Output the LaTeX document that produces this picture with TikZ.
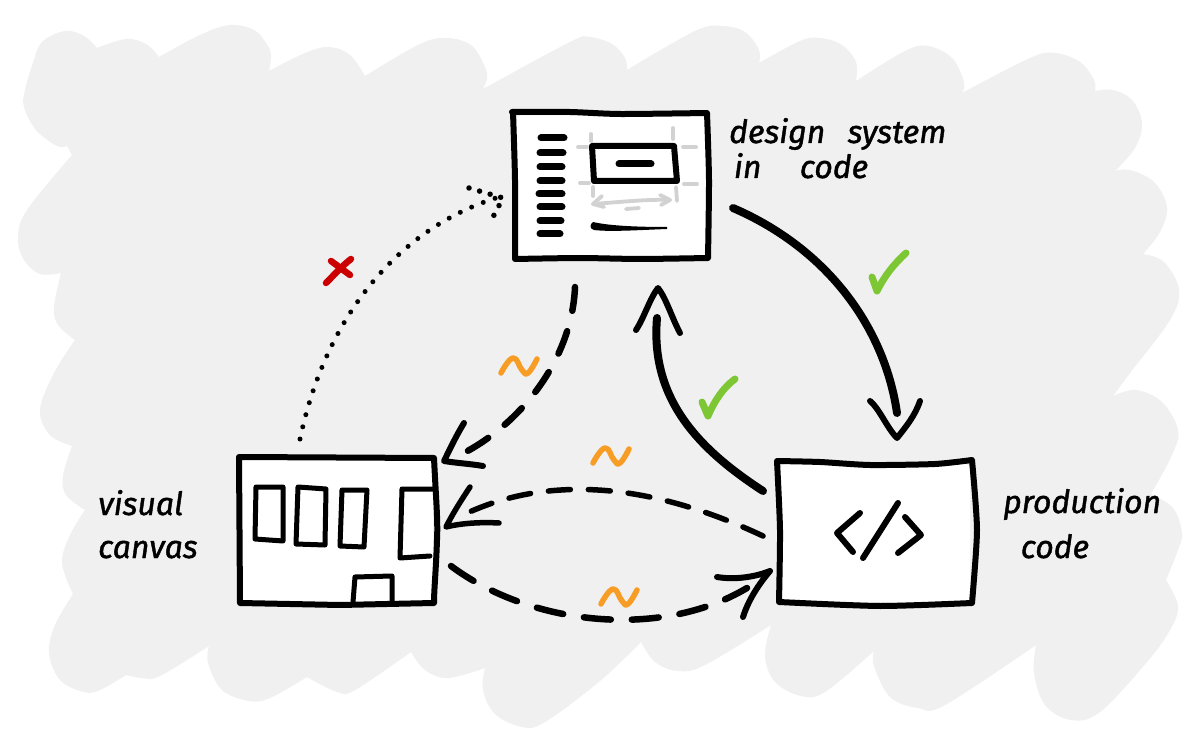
\documentclass[tikz,border=0pt]{standalone}
\usepackage{fontspec}
\setmainfont{Fira Sans}[ItalicFeatures={FakeBold=1.3}]
\usetikzlibrary{calc}
\definecolor{blob}{HTML}{F0F0F0}
\definecolor{greymark}{HTML}{D2D2D2}
\definecolor{okgreen}{HTML}{7DC734}
\definecolor{badred}{HTML}{CC0000}
\definecolor{tildeorange}{HTML}{F79C24}
\tikzset{
  ink/.style={draw=black,line width=#1,line cap=round,line join=round},
  ink/.default=6pt,
  bar/.style={draw=black,line width=7pt,line cap=round},
  gmark/.style={draw=greymark,line width=3.8pt,line cap=round,line join=round},
  boxfill/.style={fill=white,rounded corners=5pt,inner sep=0pt},
  heavy/.style={draw=black,line width=8pt,line cap=round},
  dashA/.style={draw=black,line width=6.5pt,line cap=round,dash pattern=on 24pt off 21pt},
  dashB/.style={draw=black,line width=5.5pt,line cap=round,dash pattern=on 22pt off 18pt},
  dashC/.style={draw=black,line width=6.5pt,line cap=round,dash pattern=on 27pt off 21pt},
  dotline/.style={draw=black,line width=5pt,line cap=round,dash pattern=on 0pt off 12.5pt},
  dothead/.style={draw=black,line width=5.5pt,line cap=round,dash pattern=on 0pt off 11pt},
  tick/.style={draw=okgreen,line width=7pt,line cap=round,line join=round},
  cross/.style={draw=badred,line width=6.5pt,line cap=round},
  tildemark/.style={draw=tildeorange,line width=5.5pt,line cap=round,line join=round},
  hand/.style={font=\fontsize{32}{45}\selectfont\itshape,align=left,inner sep=0pt,anchor=base west},
}
\newcommand{\tildeat}[1]{%
  \draw[tildemark] plot[smooth,tension=.8] coordinates {($(#1)+(-18,7)$) ($(#1)+(-6,-8)$) ($(#1)+(3,4)$) ($(#1)+(9,7)$) ($(#1)+(18,-7)$)};}
\begin{document}
\begin{tikzpicture}[x=1pt,y=-1pt]
\useasboundingbox (0,0) rectangle (1200,746);
\fill[white] (0,0) rectangle (1200,746);
% background blob
\fill[blob] plot[smooth,tension=.6] coordinates {(72,155) (67,146)}
 -- plot[smooth,tension=.6] coordinates {(67,146) (57,146) (36,130) (24,107) (25,90) (33,63) (42,42) (65,31) (84,36) (97,48)}
 -- plot[smooth,tension=.6] coordinates {(97,48) (126,39) (146,44) (159,57)}
 -- plot[smooth,tension=.6] coordinates {(159,57) (200,35) (230,25) (254,30) (266,43) (271,55) (269,71)}
 -- plot[smooth,tension=.6] coordinates {(269,71) (305,53) (329,47) (350,55) (365,76)}
 -- plot[smooth,tension=.6] coordinates {(365,76) (420,44) (448,38) (472,46) (485,67) (487,78) (483,89)}
 -- plot[smooth,tension=.6] coordinates {(483,89) (570,42) (589,37) (612,44) (625,58) (627,70)}
 -- plot[smooth,tension=.6] coordinates {(627,70) (695,31) (722,26) (745,32) (759,50) (759,63)}
 -- plot[smooth,tension=.6] coordinates {(759,63) (800,41) (820,38) (842,45) (856,62) (856,81)}
 -- plot[smooth,tension=.6] coordinates {(856,81) (905,51) (928,46) (952,58) (964,82) (962,93)}
 -- plot[smooth,tension=.6] coordinates {(962,93) (1030,58) (1055,53) (1080,62) (1094,80) (1095,91)}
 -- plot[smooth,tension=.6] coordinates {(1095,91) (1113,90) (1132,100) (1142,123) (1135,148) (1115,171)}
 -- plot[smooth,tension=.6] coordinates {(1115,171) (1130,170) (1154,182) (1167,207) (1160,232) (1143,254)}
 -- plot[smooth,tension=.6] coordinates {(1143,254) (1164,262) (1179,290) (1170,320) (1130,373) (1113,396)}
 -- plot[smooth,tension=.6] coordinates {(1113,396) (1136,390) (1162,402) (1178,430) (1172,455) (1151,494)}
 -- plot[smooth,tension=.6] coordinates {(1151,494) (1173,508) (1182,533) (1178,550) (1166,580)}
 -- plot[smooth,tension=.6] coordinates {(1166,580) (1178,606) (1170,630) (1147,662) (1100,712) (1071,720) (1045,705) (1034,673) (1036,645)}
 -- plot[smooth,tension=.6] coordinates {(1036,645) (945,705) (918,708) (890,697) (874,666) (874,651)}
 -- plot[smooth,tension=.6] coordinates {(874,651) (825,692) (801,696) (775,682) (765,656) (771,625)}
 -- plot[smooth,tension=.6] coordinates {(771,625) (705,665) (678,671) (655,662) (641,642)}
 -- plot[smooth,tension=.6] coordinates {(641,642) (600,681) (545,722) (522,727) (495,714) (483,690) (485,668)}
 -- plot[smooth,tension=.6] coordinates {(485,668) (448,678) (425,670) (411,652)}
 -- plot[smooth,tension=.6] coordinates {(411,652) (355,690) (337,692) (307,677)}
 -- plot[smooth,tension=.6] coordinates {(307,677) (270,698) (249,701) (222,690) (208,663) (209,646)}
 -- plot[smooth,tension=.6] coordinates {(209,646) (160,676) (142,678) (126,675)}
 -- plot[smooth,tension=.6] coordinates {(126,675) (100,690) (84,692) (60,680) (49,653) (55,625) (73,594)}
 -- plot[smooth,tension=.6] coordinates {(73,594) (62,563) (70,535) (85,510)}
 -- plot[smooth,tension=.6] coordinates {(85,510) (66,495) (63,476) (72,446)}
 -- plot[smooth,tension=.6] coordinates {(72,446) (50,435) (40,410) (54,373) (75,340)}
 -- plot[smooth,tension=.6] coordinates {(75,340) (58,325) (54,307) (61,273)}
 -- plot[smooth,tension=.6] coordinates {(61,273) (40,274) (24,260) (18,238) (27,210) (72,155)}
 -- cycle;

% box fills
\node[boxfill,minimum width=190pt,minimum height=141pt] (ds) at (611,186) {};
\node[boxfill,minimum width=192pt,minimum height=144pt,rounded corners=0pt] (vc) at (337,531) {};
\node[boxfill,minimum width=190pt,minimum height=138pt] (pc) at (875,533) {};

% design system box
\draw[ink] plot[smooth,tension=.4] coordinates {(512,112) (570,112) (620,114) (707,113)}
 -- plot[smooth,tension=.4] coordinates {(707,113) (709,180) (708,258)}
 -- plot[smooth,tension=.4] coordinates {(708,258) (640,259) (580,258) (515,259)}
 -- plot[smooth,tension=.4] coordinates {(515,259) (515,180) (513,112)} -- cycle;
\foreach \ya/\xa/\xb in {138/541/564, 153/540/563, 167/540/562, 181/540/562, 194/539/562, 207/540/562, 221/540/561, 234/540/560}
  \draw[bar] (\xa,\ya) -- (\xb,\ya);
\draw[ink] (592,146) -- (674,146) -- (677,181) -- (594,181) -- cycle;
\draw[bar] (619,164) -- (651,164);
\draw[gmark] (591,134) -- (591,141);
\draw[gmark] (578,147) -- (587,147);
\draw[gmark] (673,128) -- (673,139);
\draw[gmark] (683,147) -- (696,147);
\draw[gmark] (580,183) -- (589,183);
\draw[gmark] (684,184) -- (697,184);
\draw[gmark] (593,187) -- (593,196);
\draw[gmark] (676,187) -- (677,201);
\draw[gmark] (602,196) -- (593,204) -- (604,207);
\draw[gmark] (593,204) .. controls (620,202) and (650,199) .. (670,200);
\draw[gmark] (660,195) -- (670,200) -- (661,205);
\draw[gmark] (626,209) -- (639,208);
\fill[black] (593,222) .. controls (589,225) and (590,229) .. (594,230) .. controls (610,232) and (640,230) .. (667,229) -- (667,227) .. controls (640,227) and (610,226) .. (593,222) -- cycle;

% canvas box
\draw[ink] (239,457) -- (434,458) .. controls (436,500) and (438,520) .. (437,540) .. controls (436,570) and (434,590) .. (434,603) -- (340,605) -- (240,603) -- cycle;
\draw[ink={5pt}] (256,487) -- (283,487) -- (283,541) -- (255,539) -- cycle;
\draw[ink={5pt}] (298,487) -- (326,489) -- (325,545) -- (296,544) -- cycle;
\draw[ink={5pt}] (342,490) -- (367,490) -- (364,547) -- (340,546) -- cycle;
\draw[ink={5pt}] (435,489) -- (402,489) -- (400,558) -- (430,556);
\draw[ink={5pt}] (353,602) -- (355,577) -- (392,576) -- (392,602);

% production box
\draw[ink] plot[smooth,tension=.4] coordinates {(777,461) (820,462) (870,465) (935,464) (972,460)}
 -- plot[smooth,tension=.4] coordinates {(972,460) (977,530) (972,603)}
 -- plot[smooth,tension=.4] coordinates {(972,603) (880,606) (779,602)}
 -- plot[smooth,tension=.4] coordinates {(779,602) (780,530) (777,461)} -- cycle;
\draw[ink] (860,513) -- (837,533) -- (853,552);
\draw[ink] (898,503) -- (863,558);
\draw[ink] (905,517) -- (921,535) -- (898,553);

% labels
\node[hand] (dslabel) at (729,178) {design\hspace{.7em}system\\[-10pt]\hspace{.15em}in\hspace{1.2em}code};
\node[hand] (vclabel) at (98,558) {visual\\[-2pt]canvas};
\node[hand] (pclabel) at (1003,558) {production\\\hspace{.55em}code};

% endpoints
\coordinate (a1s) at (733,208);
\coordinate (a1e) at (897,413);
\coordinate (a1t) at (897,438);
\coordinate (a2s) at (763,491);
\coordinate (a2e) at (657,318);
\coordinate (a2t) at (658,288);
\coordinate (a3s) at (575,287);
\coordinate (a3e) at (460,455);
\coordinate (a3t) at (444,461);
\coordinate (a4s) at (763,536);
\coordinate (a4e) at (463,515);
\coordinate (a4t) at (446,527);
\coordinate (a5s) at (451,566);
\coordinate (a5e) at (747,588);
\coordinate (a5t) at (770,571);
\coordinate (a6s) at (300,439);
\coordinate (a6e) at (496,198);
\coordinate (a6t) at (503,198);

% design -> production
\draw[heavy] (a1s) .. controls (830,250) and (885,330) .. (a1e);
\draw[ink] ($(a1t)+(-27,-37)$) .. controls ($(a1t)+(-18,-30)$) and ($(a1t)+(-10,-10)$) .. (a1t) .. controls ($(a1t)+(8,-10)$) and ($(a1t)+(18,-22)$) .. ($(a1t)+(23,-37)$);
% production -> design
\draw[heavy] (a2s) .. controls (700,450) and (650,400) .. (a2e);
\draw[ink] ($(a2t)+(-22,42)$) .. controls ($(a2t)+(-14,30)$) and ($(a2t)+(-8,10)$) .. (a2t) .. controls ($(a2t)+(8,10)$) and ($(a2t)+(14,30)$) .. ($(a2t)+(22,45)$);
% design -> canvas
\draw[dashA] (a3s) .. controls (572,360) and (520,425) .. (a3e);
\draw[ink] ($(a3t)+(20,-38)$) .. controls ($(a3t)+(12,-25)$) and ($(a3t)+(6,-12)$) .. (a3t) .. controls ($(a3t)+(12,2)$) and ($(a3t)+(28,3)$) .. ($(a3t)+(39,5)$);
% production -> canvas
\draw[dashB] (a4s) .. controls (640,478) and (540,478) .. (a4e);
\draw[ink={5.5pt}] ($(a4t)+(24,-40)$) .. controls ($(a4t)+(14,-25)$) and ($(a4t)+(6,-12)$) .. (a4t) .. controls ($(a4t)+(16,-4)$) and ($(a4t)+(36,-5)$) .. ($(a4t)+(53,-4)$);
% canvas -> production
\draw[dashC] (a5s) .. controls (530,625) and (660,640) .. (a5e);
\draw[ink] ($(a5t)+(-53,6)$) .. controls ($(a5t)+(-35,9)$) and ($(a5t)+(-15,6)$) .. (a5t) .. controls ($(a5t)+(-12,14)$) and ($(a5t)+(-22,30)$) .. ($(a5t)+(-27,46)$);
% canvas -> design (dotted)
\draw[dotline] (a6s) .. controls (325,320) and (395,230) .. (a6e);
\draw[dothead] (469,188) -- (a6t) -- (493,217);

% marks
\draw[tick] (872,277) -- (877,291) .. controls (885,275) and (895,263) .. (906,253);
\draw[tick] (702,402) -- (708,416) .. controls (715,400) and (723,388) .. (735,379);
\draw[cross] (331,261) -- (350,275);
\draw[cross] (351,259) .. controls (342,266) and (333,276) .. (326,283);
\tildeat{519,366}
\tildeat{611,456}
\tildeat{619,597}
\end{tikzpicture}
\end{document}
